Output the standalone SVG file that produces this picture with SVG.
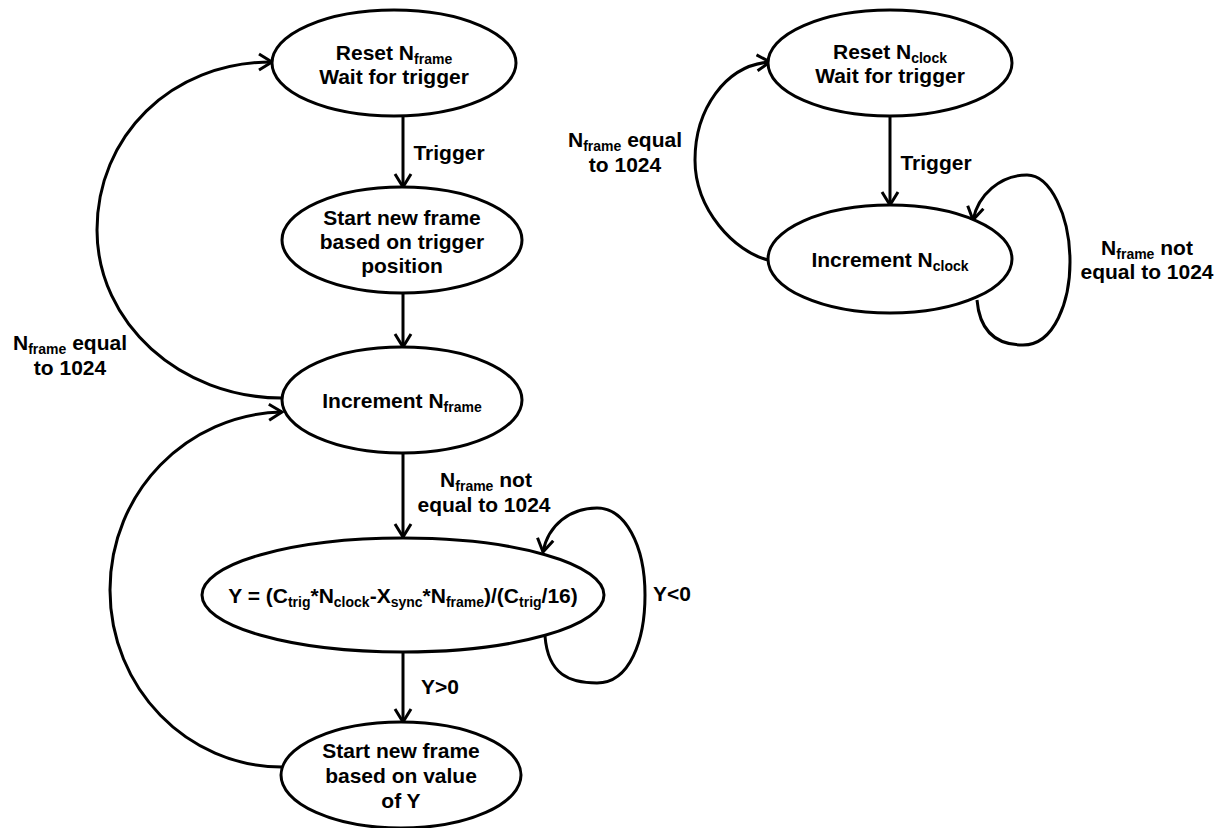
<svg xmlns="http://www.w3.org/2000/svg" width="1219" height="828" viewBox="0 0 1219 828">
<style>
.n{fill:#fff;stroke:#000;stroke-width:3}
.t{font-family:"Liberation Sans",Arial,sans-serif;font-weight:bold;font-size:21px;fill:#000;text-anchor:middle}
.s{font-size:14px}
.c{fill:none;stroke:#000;stroke-width:3}
</style>
<defs>
<marker id="arr" markerUnits="userSpaceOnUse" viewBox="0 0 16 20" markerWidth="16" markerHeight="20" refX="14" refY="10" orient="auto">
<path d="M1,2 L14,10 L1,18" fill="none" stroke="#000" stroke-width="3"/>
</marker>
</defs>
<rect width="1219" height="828" fill="#fff"/>
<g id="connectors">
<path class="c" d="M403,117 L403,187" marker-end="url(#arr)"/>
<path class="c" d="M403,293 L403,347" marker-end="url(#arr)"/>
<path class="c" d="M403,453 L403,537" marker-end="url(#arr)"/>
<path class="c" d="M403,652 L403,722" marker-end="url(#arr)"/>
<path class="c" d="M282,398 C180,398 97,323 97,230 C97,137 170,62 272,62" marker-end="url(#arr)"/>
<path class="c" d="M282,767 C187,767 110,688 110,590 C110,492 187,414 282,412" marker-end="url(#arr)"/>
<path class="c" d="M545,636 C548,675 570,683 597,683 C630,683 645,640 645,595 C645,545 625,508 597,508 C570,508 548,525 543,552" marker-end="url(#arr)"/>
<path class="c" d="M890,117 L890,205" marker-end="url(#arr)"/>
<path class="c" d="M768,260 C735,252 695,210 695,160 C695,110 725,65 770,62" marker-end="url(#arr)"/>
<path class="c" d="M977,300 C980,335 1000,345 1023,345 C1055,345 1070,300 1070,262 C1070,215 1050,175 1027,175 C1000,175 978,195 973,220" marker-end="url(#arr)"/>
<text class="t" x="449" y="160">Trigger</text>
<text class="t" x="486" y="487">N<tspan class="s" dy="4">frame</tspan><tspan dy="-4"> not</tspan></text>
<text class="t" x="484" y="512">equal to 1024</text>
<text class="t" x="440" y="694">Y&gt;0</text>
<text class="t" x="672" y="601">Y&lt;0</text>
<text class="t" x="70" y="350">N<tspan class="s" dy="4">frame</tspan><tspan dy="-4"> equal</tspan></text>
<text class="t" x="70" y="375">to 1024</text>
<text class="t" x="936" y="170">Trigger</text>
<text class="t" x="625" y="147">N<tspan class="s" dy="4">frame</tspan><tspan dy="-4"> equal</tspan></text>
<text class="t" x="625" y="172">to 1024</text>
<text class="t" x="1147" y="255">N<tspan class="s" dy="4">frame</tspan><tspan dy="-4"> not</tspan></text>
<text class="t" x="1147" y="279">equal to 1024</text>
</g>
<g id="reset-frame">
<ellipse class="n" cx="394" cy="63" rx="122" ry="53"/>
<text class="t" x="394" y="60">Reset N<tspan class="s" dy="4">frame</tspan></text>
<text class="t" x="394" y="84">Wait for trigger</text>
</g>
<g id="start-trigger">
<ellipse class="n" cx="402" cy="240" rx="120" ry="53"/>
<text class="t" x="402" y="225">Start new frame</text>
<text class="t" x="402" y="249">based on trigger</text>
<text class="t" x="402" y="273">position</text>
</g>
<g id="increment-frame">
<ellipse class="n" cx="402" cy="400" rx="120" ry="53"/>
<text class="t" x="402" y="408">Increment N<tspan class="s" dy="4">frame</tspan></text>
</g>
<g id="compute-y">
<ellipse class="n" cx="403" cy="595" rx="201" ry="57"/>
<text class="t" x="403" y="603">Y = (C<tspan class="s" dy="4">trig</tspan><tspan dy="-4">*N</tspan><tspan class="s" dy="4">clock</tspan><tspan dy="-4">-X</tspan><tspan class="s" dy="4">sync</tspan><tspan dy="-4">*N</tspan><tspan class="s" dy="4">frame</tspan><tspan dy="-4">)/(C</tspan><tspan class="s" dy="4">trig</tspan><tspan dy="-4">/16)</tspan></text>
</g>
<g id="start-y">
<ellipse class="n" cx="401" cy="775" rx="120" ry="53"/>
<text class="t" x="401" y="758">Start new frame</text>
<text class="t" x="401" y="783">based on value</text>
<text class="t" x="401" y="808">of Y</text>
</g>
<g id="reset-clock">
<ellipse class="n" cx="890" cy="63" rx="122" ry="53"/>
<text class="t" x="890" y="59">Reset N<tspan class="s" dy="4">clock</tspan></text>
<text class="t" x="890" y="83">Wait for trigger</text>
</g>
<g id="increment-clock">
<ellipse class="n" cx="890" cy="259" rx="122" ry="54"/>
<text class="t" x="890" y="267">Increment N<tspan class="s" dy="4">clock</tspan></text>
</g>
</svg>
